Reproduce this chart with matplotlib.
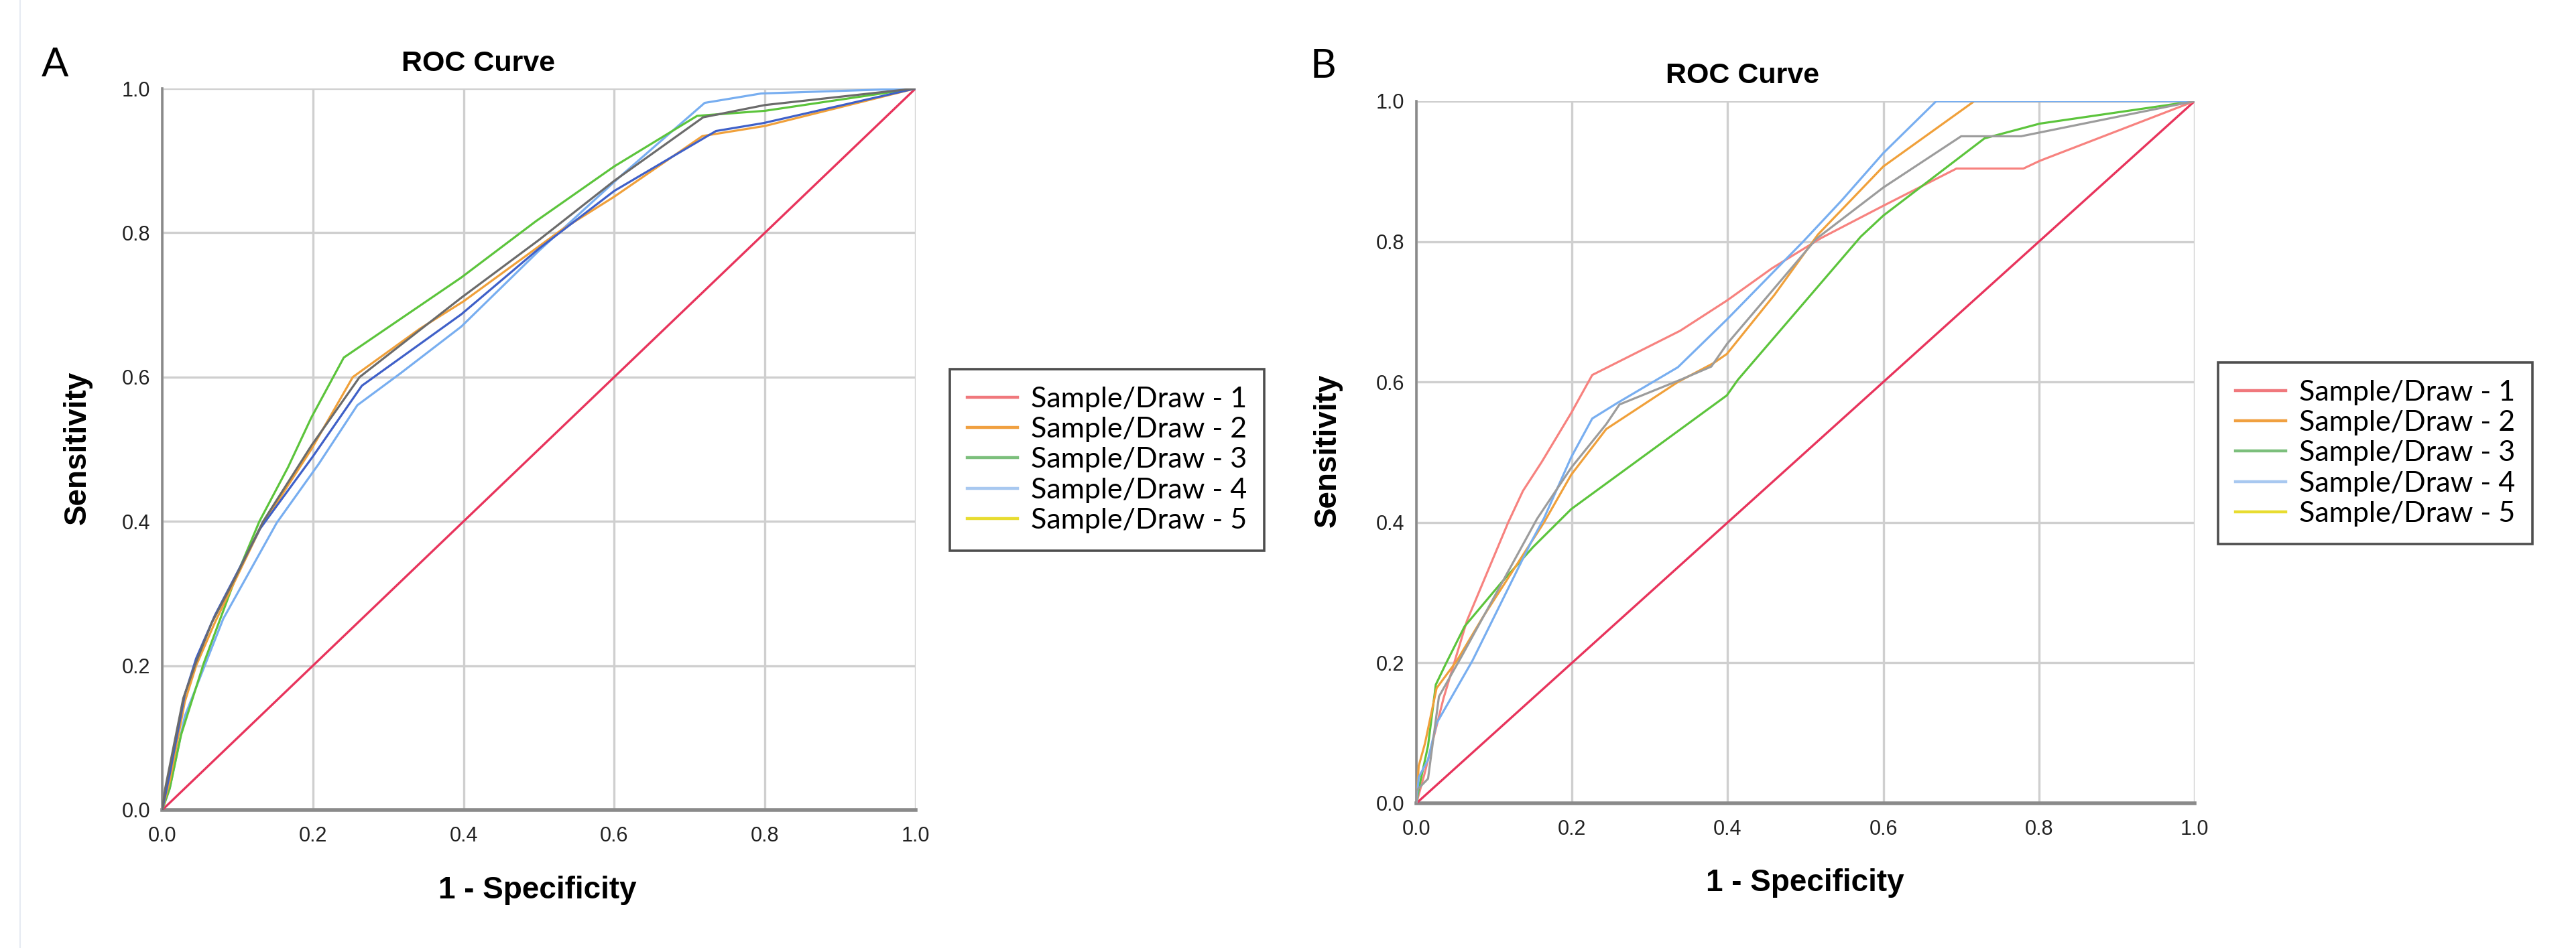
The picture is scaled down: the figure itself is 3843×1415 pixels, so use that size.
import matplotlib
matplotlib.use("Agg")
import matplotlib.pyplot as plt
from matplotlib.lines import Line2D

# figure size in pixels (dpi 100)
W, H = 3843, 1415

# ---- data ----
ticks = [0.0, 0.2, 0.4, 0.6, 0.8, 1.0]
tick_labels = ["0.0", "0.2", "0.4", "0.6", "0.8", "1.0"]
legend_labels = ["Sample/Draw - 1", "Sample/Draw - 2", "Sample/Draw - 3",
                 "Sample/Draw - 4", "Sample/Draw - 5"]
ref_x = [0, 1]
ref_y = [0, 1]

# panel A
a_lblue_x = [0, 0.01, 0.03, 0.081, 0.152, 0.208, 0.259, 0.316, 0.397, 0.50, 0.61, 0.72, 0.795, 1]
a_lblue_y = [0, 0.03, 0.13, 0.265, 0.398, 0.48, 0.561, 0.605, 0.670, 0.775, 0.88, 0.98, 0.993, 1]
a_green_x = [0, 0.01, 0.025, 0.055, 0.096, 0.129, 0.167, 0.198, 0.241, 0.397, 0.496, 0.60, 0.71, 0.80, 1]
a_green_y = [0, 0.03, 0.104, 0.203, 0.318, 0.40, 0.475, 0.544, 0.627, 0.738, 0.816, 0.892, 0.962, 0.969, 1]
a_orange_x = [0, 0.01, 0.03, 0.045, 0.07, 0.13, 0.198, 0.253, 0.342, 0.40, 0.53, 0.60, 0.717, 0.80, 1]
a_orange_y = [0, 0.04, 0.15, 0.20, 0.26, 0.39, 0.50, 0.60, 0.667, 0.705, 0.804, 0.85, 0.934, 0.948, 1]
a_dblue_x = [0, 0.01, 0.03, 0.045, 0.07, 0.13, 0.20, 0.265, 0.397, 0.50, 0.60, 0.735, 0.798, 1]
a_dblue_y = [0, 0.05, 0.16, 0.21, 0.27, 0.39, 0.49, 0.588, 0.687, 0.778, 0.858, 0.941, 0.952, 1]
a_gray_x = [0, 0.004, 0.028, 0.045, 0.066, 0.096, 0.134, 0.198, 0.262, 0.397, 0.50, 0.60, 0.718, 0.80, 1]
a_gray_y = [0, 0.03, 0.155, 0.205, 0.26, 0.32, 0.40, 0.505, 0.60, 0.71, 0.79, 0.872, 0.96, 0.977, 1]

# panel B
b_salmon_x = [0, 0.01, 0.035, 0.065, 0.118, 0.137, 0.161, 0.199, 0.226, 0.339, 0.399, 0.457, 0.52, 0.60, 0.694, 0.78, 0.801, 1]
b_salmon_y = [0, 0.04, 0.15, 0.26, 0.40, 0.445, 0.486, 0.556, 0.61, 0.673, 0.716, 0.762, 0.805, 0.851, 0.904, 0.904, 0.915, 1]
b_orange_x = [0, 0.003, 0.011, 0.026, 0.052, 0.086, 0.164, 0.199, 0.244, 0.336, 0.382, 0.399, 0.46, 0.516, 0.60, 0.717, 1]
b_orange_y = [0, 0.053, 0.085, 0.164, 0.203, 0.266, 0.40, 0.468, 0.533, 0.600, 0.627, 0.640, 0.724, 0.81, 0.907, 1.0, 1]
b_green_x = [0, 0.003, 0.015, 0.025, 0.038, 0.062, 0.109, 0.150, 0.199, 0.399, 0.413, 0.571, 0.60, 0.73, 0.801, 1]
b_green_y = [0, 0.02, 0.082, 0.169, 0.199, 0.252, 0.314, 0.365, 0.419, 0.581, 0.603, 0.807, 0.837, 0.947, 0.968, 1]
b_lblue_x = [0, 0.003, 0.015, 0.026, 0.072, 0.147, 0.164, 0.199, 0.226, 0.258, 0.336, 0.399, 0.497, 0.546, 0.60, 0.668, 1]
b_lblue_y = [0, 0.037, 0.062, 0.114, 0.203, 0.371, 0.406, 0.493, 0.548, 0.570, 0.621, 0.689, 0.80, 0.858, 0.926, 1.0, 1]
b_gray_x = [0, 0.0, 0.015, 0.029, 0.058, 0.155, 0.199, 0.244, 0.261, 0.339, 0.379, 0.399, 0.514, 0.60, 0.700, 0.777, 1]
b_gray_y = [0, 0.018, 0.035, 0.152, 0.209, 0.405, 0.478, 0.540, 0.568, 0.603, 0.622, 0.654, 0.804, 0.877, 0.950, 0.950, 1]

# colours
c_ref = "#e8345c"
c_salmon = "#f7827f"
c_orange = "#f0a03a"
c_green = "#5cc43c"
c_lblue = "#78aef0"
c_dblue = "#3f60c8"
c_gray_a = "#6b6b6b"
c_gray_b = "#9c9c9c"
legend_colors = ["#f0787c", "#f0a040", "#7cbf7c", "#a8c8f0", "#e8dc30"]

plt.rcParams['font.family'] = ['Liberation Sans', 'DejaVu Sans']


def fx(x):
    return x / W


def fy(y):
    return 1 - y / H


def setup_axes(left, top, right, bottom):
    ax = fig.add_axes([fx(left), fy(bottom), (right - left) / W, (bottom - top) / H])
    ax.set_xlim(0, 1)
    ax.set_ylim(0, 1)
    ax.set_xticks(ticks)
    ax.set_yticks(ticks)
    ax.set_xticklabels(tick_labels)
    ax.set_yticklabels(tick_labels)
    ax.tick_params(length=0, labelsize=22, colors="#222222")
    ax.tick_params(axis="x", pad=17)
    ax.tick_params(axis="y", pad=13)
    ax.grid(True, color="#cfcfcf", lw=2.4)
    ax.set_axisbelow(True)
    for s in ["top", "right"]:
        ax.spines[s].set_visible(False)
    ax.spines["left"].set_color("#8a8a8a")
    ax.spines["left"].set_linewidth(2.6)
    ax.spines["bottom"].set_color("#8a8a8a")
    ax.spines["bottom"].set_linewidth(4)
    return ax


def add_legend(ax, left, top):
    handles = [Line2D([], [], color=c, lw=3.2) for c in legend_colors]
    leg = ax.legend(handles, legend_labels, loc="upper left",
                    bbox_to_anchor=(fx(left), fy(top)), bbox_transform=fig.transFigure,
                    prop={"family": ["Lato", "DejaVu Sans"], "size": 31},
                    frameon=True, fancybox=False, edgecolor="#222222",
                    handlelength=1.75, handletextpad=0.45, labelspacing=0.17,
                    borderpad=0.6, borderaxespad=0)
    leg.get_frame().set_linewidth(2.6)
    return leg


fig = plt.figure(figsize=(W / 100, H / 100), dpi=100)

# faint page edge on the left
fig.add_artist(Line2D([fx(30), fx(30)], [0, 1], color="#e6eaf2", lw=1.5))

# ---- panel A ----
axA = setup_axes(242, 132, 1366, 1209)
axA.plot(ref_x, ref_y, color=c_ref, lw=2.4, zorder=3)
axA.plot(a_lblue_x, a_lblue_y, color=c_lblue, lw=2.3, zorder=3)
axA.plot(a_green_x, a_green_y, color=c_green, lw=2.3, zorder=3)
axA.plot(a_orange_x, a_orange_y, color=c_orange, lw=2.3, zorder=3)
axA.plot(a_dblue_x, a_dblue_y, color=c_dblue, lw=2.3, zorder=3)
axA.plot(a_gray_x, a_gray_y, color=c_gray_a, lw=2.3, zorder=3)
add_legend(axA, 1417, 551)

fig.text(fx(714), fy(95), "ROC Curve", ha="center", va="center", fontsize=31, fontweight="bold")
fig.text(fx(802), fy(1329), "1 - Specificity", ha="center", va="center", fontsize=33, fontweight="bold")
fig.text(fx(116), fy(668), "Sensitivity", ha="center", va="center", rotation=90, fontsize=33, fontweight="bold")
fig.text(fx(82), fy(97), "A", ha="center", va="center", fontsize=43, family=["Lato", "DejaVu Sans"])

# ---- panel B ----
axB = setup_axes(2113, 151, 3274, 1199)
axB.plot(ref_x, ref_y, color=c_ref, lw=2.4, zorder=3)
axB.plot(b_salmon_x, b_salmon_y, color=c_salmon, lw=2.3, zorder=3)
axB.plot(b_green_x, b_green_y, color=c_green, lw=2.3, zorder=3)
axB.plot(b_orange_x, b_orange_y, color=c_orange, lw=2.3, zorder=3)
axB.plot(b_lblue_x, b_lblue_y, color=c_lblue, lw=2.3, zorder=3)
axB.plot(b_gray_x, b_gray_y, color=c_gray_b, lw=2.3, zorder=3)
add_legend(axB, 3309, 541)

fig.text(fx(2600), fy(113), "ROC Curve", ha="center", va="center", fontsize=31, fontweight="bold")
fig.text(fx(2693), fy(1318), "1 - Specificity", ha="center", va="center", fontsize=33, fontweight="bold")
fig.text(fx(1981), fy(672), "Sensitivity", ha="center", va="center", rotation=90, fontsize=33, fontweight="bold")
fig.text(fx(1974), fy(99), "B", ha="center", va="center", fontsize=43, family=["Lato", "DejaVu Sans"])

fig.savefig("out.png", dpi=100, facecolor="white")
